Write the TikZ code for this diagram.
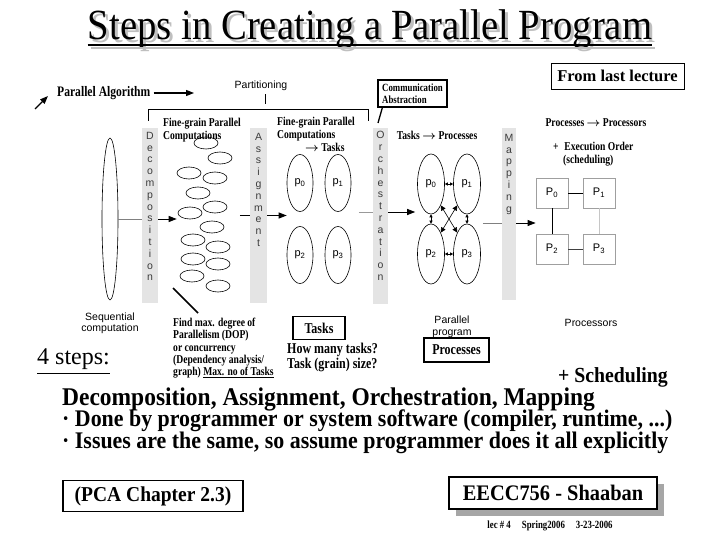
\documentclass[tikz,border=0pt]{standalone}
\usepackage{amsmath}
\usepackage{fontspec}
\setmainfont{Liberation Serif}
\setsansfont{Liberation Sans}
\newfontfamily\condfont{Liberation Serif}[FakeStretch=0.8]
\newfontfamily\slimfont{Liberation Serif}[FakeStretch=0.92]
\newfontfamily\titlefont{Liberation Serif}[FakeStretch=0.9]
\usetikzlibrary{arrows.meta,positioning,shapes.geometric}
\definecolor{barfill}{HTML}{E4E4E4}
\definecolor{lettergray}{HTML}{3C3C3C}
\newcommand{\fsz}[2]{\fontsize{#1}{#2}\selectfont}

\begin{document}
\begin{tikzpicture}[x=1pt, y=-1pt,
  bar/.style={rectangle, fill=barfill, minimum width=16pt, minimum height=175pt, inner sep=0pt},
  barword/.style={font=\sffamily\fsz{10.5}{11.8}, text=lettergray, align=center, inner sep=0pt},
  grain/.style={ellipse, draw, line width=0.6pt, minimum width=24pt, minimum height=12pt, inner sep=0pt},
  proc/.style={ellipse, draw, line width=0.6pt, minimum width=26pt, minimum height=57pt, inner sep=0pt, font=\sffamily\fsz{11}{12}},
  cpu/.style={rectangle, draw=gray!75, line width=0.8pt, minimum width=32pt, minimum height=30pt, inner sep=0pt, font=\sffamily\fsz{11}{12}},
  note/.style={font=\condfont\bfseries\fsz{12}{12.6}, align=left, inner sep=0pt},
  sans/.style={font=\sffamily\fsz{10.5}{11.5}, align=center, inner sep=0pt},
  tag/.style={draw, line width=1.3pt, font=\condfont\bfseries\fsz{15}{15}, inner sep=0pt},
  big/.style={font=\slimfont\bfseries\fsz{23.8}{24}, anchor=west, inner sep=0pt},
  flow/.style={-{Triangle[length=8pt,width=6pt]}, line width=0.9pt},
  feed/.style={line width=0.6pt, gray},
  dbl/.style={{Triangle[length=3pt,width=3pt]}-{Triangle[length=3pt,width=3pt]}, line width=0.6pt},
  cross/.style={{Triangle[length=5pt,width=5pt]}-{Triangle[length=5pt,width=5pt]}, line width=0.6pt}]

\useasboundingbox[fill=white] (0,0) rectangle (720,540);

\node[font=\titlefont\fsz{43}{43}, text=gray!50, inner sep=0pt] at (373,32) (titleshade) {Steps in Creating a Parallel Program};
\node[font=\titlefont\fsz{43}{43}, inner sep=0pt] at (370,29) (title) {Steps in Creating a Parallel Program};
\draw[gray!50, line width=2pt] ([shift={(3pt,-9pt)}]title.base west) -- ([shift={(3pt,-9pt)}]title.base east);
\draw[line width=2pt] ([yshift=-6pt]title.base west) -- ([yshift=-6pt]title.base east);

\node[draw, line width=0.9pt, font=\bfseries\fsz{16.5}{17}, minimum width=133pt, minimum height=26pt, inner sep=0pt] at (617.5,76) (last) {From last lecture};

\node[note, font=\condfont\bfseries\fsz{14.5}{15}, anchor=west] at (57,93) (algo) {Parallel Algorithm};
\coordinate (algotip) at (194,93);
\draw[flow, line width=1.2pt, shorten <=3pt] (algo.east) -- (algotip);
\coordinate (nwfoot) at (35,109);
\coordinate (nwtip) at (48,96);
\draw[flow, line width=1.2pt] (nwfoot) -- (nwtip);

\node[sans] at (261,86) (part) {Partitioning};
\coordinate (brL) at (148,121);
\coordinate (brR) at (368,121);
\draw[line width=0.6pt] (brL) -- ++(0,-12) -| (brR);
\draw[line width=0.6pt] (part.south) ++(4,3) -- ++(0,10);

\node[tag, font=\condfont\bfseries\fsz{11}{12}, align=left, minimum width=69pt, minimum height=27pt] at (412.5,93.5) (comm) {Communication\\Abstraction};
\draw[line width=1.3pt] ([xshift=5pt]comm.south west) -- (378,123);

\node[bar] at (150,215.5) (dec) {};
\node[bar, minimum width=17pt] at (258.5,215.5) (asg) {};
\node[bar, minimum width=15pt] at (380.5,216) (orc) {};
\node[bar, minimum width=14pt, minimum height=172pt] at (509,214) (map) {};
\node[barword, below=4pt of dec.north] (decw) {D\\e\\c\\o\\m\\p\\o\\s\\i\\t\\i\\o\\n};
\node[barword, below=5pt of asg.north] (asgw) {A\\s\\s\\i\\g\\n\\m\\e\\n\\t};
\node[barword, below=3pt of orc.north] (orcw) {O\\r\\c\\h\\e\\s\\t\\r\\a\\t\\i\\o\\n};
\node[barword, below=6pt of map.north] (mapw) {M\\a\\p\\p\\i\\n\\g};

\node[ellipse, draw, line width=0.6pt, minimum width=16pt, minimum height=162pt, inner sep=0pt] at (110,219) (seq) {};
\node[sans, below=12pt of seq] (seqlbl) {Sequential\\computation};

\node[note, anchor=north west] at (163,118) (finelbl) {Fine-grain Parallel\\Computations};
\foreach \gx/\gy [count=\i] in {206/143, 220/158, 189/173, 215/178, 198/193, 215/207, 190/213, 212/227, 193/240, 218/247, 193/259, 218/264, 192/276, 218/286}
  \node[grain] at (\gx,\gy) (f\i) {};

\draw[feed] (seq.east) -- (seq.east -| dec.west);
\draw[flow] (seq.east -| dec.east) -- ([xshift=-1pt]seq.east -| f7.west);

\coordinate (slashA) at (173,288);
\coordinate (slashB) at (198,313);
\draw[line width=1.5pt] (slashA) -- (slashB);
\node[note, font=\condfont\bfseries\fsz{12}{12.3}, anchor=north west] at (173,318) (dop) {Find max. degree of\\Parallelism (DOP)\\or concurrency\\(Dependency analysis/\\graph) \underline{Max. no of Tasks}};

\node[note, font=\condfont\bfseries\fsz{12}{13}, anchor=north west] at (277,117) (tasklbl) {Fine-grain Parallel\\Computations\\\hspace*{28pt}$\boldsymbol{\rightarrow}$ Tasks};
\node[proc] at (300,183) (t0) {p\textsubscript{0}};
\node[proc] at (338,183) (t1) {p\textsubscript{1}};
\node[proc] at (300,255) (t2) {p\textsubscript{2}};
\node[proc] at (338,255) (t3) {p\textsubscript{3}};

\draw[line width=0.6pt] ([xshift=-10pt]asg.west) -- (asg.west);
\draw[flow] (asg.east) -- (asg.east -| t0.west);

\node[tag, minimum width=52pt, minimum height=23pt] at (319,328) (tasks) {Tasks};
\node[note, font=\condfont\bfseries\fsz{15}{12}, anchor=north west] at (287,343) (howmany) {How many tasks?\\Task (grain) size?};

\node[note] at (437,135) (tplbl) {Tasks $\boldsymbol{\rightarrow}$ Processes};
\node[proc, minimum width=27pt, minimum height=60pt] at (431,184) (o0) {p\textsubscript{0}};
\node[proc, minimum width=27pt, minimum height=60pt] at (467,184) (o1) {p\textsubscript{1}};
\node[proc, minimum width=27pt, minimum height=60pt] at (431,254) (o2) {p\textsubscript{2}};
\node[proc, minimum width=27pt, minimum height=60pt] at (467,254) (o3) {p\textsubscript{3}};
\draw[dbl] (o0.east) -- (o1.west);
\draw[dbl] (o2.east) -- (o3.west);
\draw[dbl] (o0.south) -- (o2.north);
\draw[dbl] (o1.south) -- (o3.north);
\draw[cross] (o0.south east) -- (o3.north west);
\draw[cross] (o1.south west) -- (o2.north east);

\draw[line width=0.6pt, gray!80] ([xshift=-14pt,yshift=4pt]orc.west) -- ([yshift=4pt]orc.west);
\draw[flow, shorten >=2pt] ([yshift=4pt]orc.east) -- ([yshift=4pt]orc.east -| o0.west);

\node[sans] at (452,327) (parlbl) {Parallel\\program};
\node[tag, minimum width=65pt, minimum height=24pt] at (456.5,350) (procs) {Processes};

\node[note] at (596,123) (pplbl) {Processes $\boldsymbol{\rightarrow}$ Processors};
\node[note, anchor=north west] at (553,142) (exec) {+\; Execution Order\\\hspace*{10pt}(scheduling)};
\node[cpu] at (552,193) (c0) {P\textsubscript{0}};
\node[cpu] at (599,193) (c1) {P\textsubscript{1}};
\node[cpu] at (552,249) (c2) {P\textsubscript{2}};
\node[cpu] at (599,249) (c3) {P\textsubscript{3}};
\draw[line width=0.7pt] (c0) -- (c1);
\draw[line width=0.7pt] (c0) -- (c2);
\draw[line width=0.7pt, gray!45] (c1) -- (c3);
\draw[line width=0.7pt, black!75] (c2) -- (c3);
\node[sans] at (591,323) (cpulbl) {Processors};

\draw[feed] ([xshift=-19pt,yshift=-9pt]map.west) -- ([yshift=-9pt]map.west);
\draw[flow] ([yshift=-9pt]map.east) -- ([yshift=-9pt]map.east -| c0.west);

\node[font=\fsz{24}{24}, anchor=west, inner sep=0pt] at (37,362) (steps) {\underline{4 steps:}};
\node[big, font=\slimfont\bfseries\fsz{21.5}{22}, anchor=east] at (668,377) (sched) {+ Scheduling};
\node[big, font=\slimfont\bfseries\fsz{25.5}{26}] at (62,399) (dam) {Decomposition, Assignment, Orchestration, Mapping};
\node[big] at (62,421) (done) {· Done by programmer or system software (compiler, runtime, ...)};
\node[big] at (62,443) (issues) {· Issues are the same, so assume programmer does it all explicitly};

\node[draw, line width=1.5pt, font=\slimfont\bfseries\fsz{21.2}{22}, minimum width=180pt, minimum height=31pt, inner sep=0pt] at (153,496) (pca) {(PCA Chapter 2.3)};
\node[fill=gray!70, minimum width=208pt, minimum height=32pt, inner sep=0pt] at (560,500) (eeccshade) {};
\node[draw, fill=white, line width=1.5pt, font=\slimfont\bfseries\fsz{22.2}{23}, minimum width=208pt, minimum height=32pt, inner sep=0pt] at (553,493) (eecc) {EECC756 - Shaaban};
\node[font=\condfont\bfseries\fsz{11}{12}, inner sep=0pt] at (550,526) (lec) {lec \# 4\quad Spring2006\quad 3-23-2006};
\end{tikzpicture}
\end{document}
